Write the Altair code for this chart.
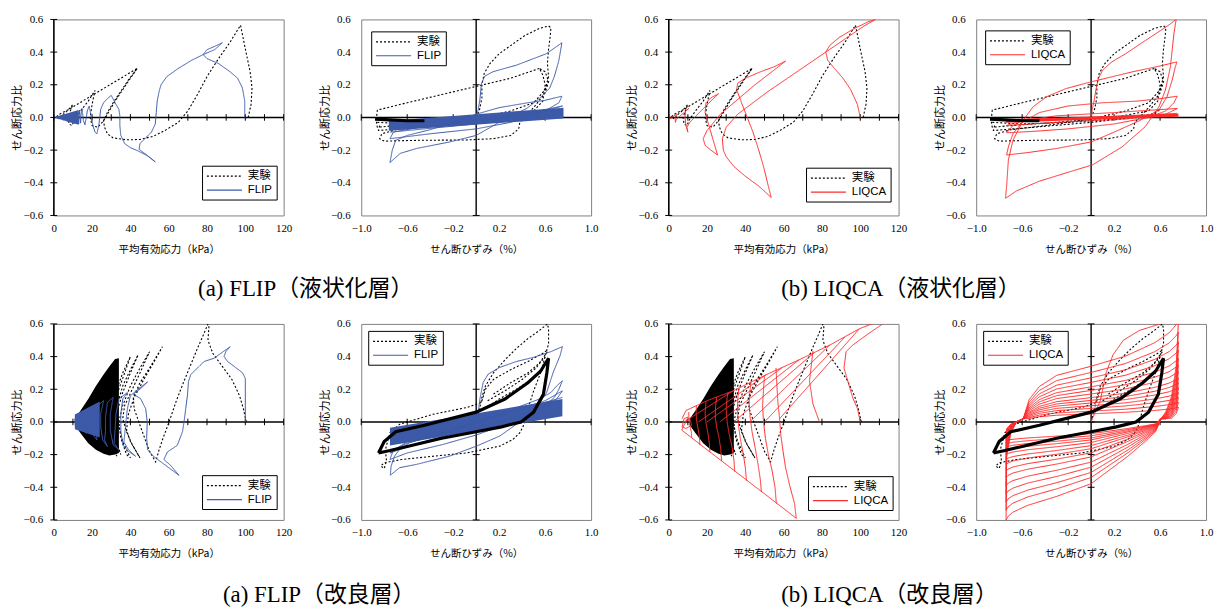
import altair as alt
import pandas as pd

# ---------------- tick values / labels ----------------
P_LABELS = [0, 20, 40, 60, 80, 100, 120]
P_AXIS_TICKS = [0, 10, 20, 30, 40, 50, 60, 70, 80, 90, 100, 110, 120]
S_LABELS = [-1.0, -0.6, -0.2, 0.2, 0.6, 1.0]
S_AXIS_TICKS = [-1.0, -0.6, -0.2, 0.2, 0.6, 1.0]
Y_LABELS = [-0.6, -0.4, -0.2, 0.0, 0.2, 0.4, 0.6]

EXP = "実験"
BLUE = "#3c5aa8"
RED = "#ff2a2a"

# ======================= 液状化層 =======================
EXP_LIQ_P = [
    [(101.5, 0.0), (103, 0.08), (103.5, 0.18), (102.5, 0.28), (100, 0.42), (97.5, 0.565), (92, 0.46), (86, 0.36),
     (80, 0.25), (75, 0.14), (70, 0.04), (65, -0.03), (58, -0.08), (52, -0.115), (45, -0.135), (38, -0.137),
     (31, -0.125), (28, -0.1), (26.5, -0.06), (26, -0.02), (28, 0.03), (31, 0.09), (35, 0.16), (39, 0.23),
     (43.5, 0.30), (35, 0.24), (25, 0.17), (15, 0.1), (8, 0.05), (3, 0.02), (1, 0.0)],
    [(43.5, 0.30), (40, 0.24), (36, 0.17), (32, 0.1), (29, 0.04), (26, -0.02), (23, -0.06), (20, -0.05), (19, 0.0),
     (20, 0.08), (21.5, 0.165), (18, 0.1), (14, 0.04), (11, -0.01), (9.5, -0.05), (8, -0.04), (7.5, 0.0), (9, 0.05),
     (10, 0.08), (7, 0.04), (4, 0.01), (3, -0.01), (2, 0.0)],
]
FLIP_LIQ_P = [
    [(99.7, 0.0), (99.7, 0.1), (98.5, 0.18), (96, 0.24), (92, 0.28), (86, 0.33), (80, 0.36), (78, 0.385), (80, 0.415),
     (84, 0.435), (88, 0.457), (84, 0.415), (78, 0.385), (72, 0.35), (65, 0.30), (59, 0.25), (56, 0.2), (55, 0.16),
     (54, 0.1), (53.5, 0.03), (53, -0.04), (51, -0.09), (48, -0.125), (45, -0.16), (44.5, -0.195), (48, -0.225),
     (53, -0.272), (49, -0.235), (44, -0.205), (40, -0.185), (37, -0.16), (35, -0.11), (34.5, -0.05), (34.5, 0.01),
     (34, 0.05), (32, 0.09), (30, 0.135), (28, 0.115), (26, 0.09), (24.5, 0.05), (24, 0.0), (23.5, -0.05),
     (22.5, -0.1), (21.5, -0.09), (20.5, -0.05), (19.5, 0.0), (19, 0.04), (18.5, 0.07), (17.5, 0.04), (17, 0.0),
     (16.3, -0.045), (15.5, -0.02), (15, 0.03), (14.8, 0.055), (14.3, 0.02), (14, -0.035), (13.5, 0.045),
     (13, -0.04), (12.5, 0.04), (12, -0.04), (11.5, 0.037), (11, -0.037), (10, 0.033), (9, -0.03), (8, 0.027),
     (7, -0.024), (6, 0.02), (5, -0.017), (4, 0.013), (3, -0.01), (2, 0.006), (1, 0.0)],
]
FLIP_LIQ_P_AREA = {"x": [1, 13], "lo": [-0.004, -0.045], "hi": [0.004, 0.045]}

LIQCA_LIQ_P = [
    [(100, 0.0), (98.5, 0.08), (95, 0.17), (91, 0.24), (86.5, 0.3), (83, 0.35), (82, 0.4), (84, 0.44), (89, 0.49),
     (97, 0.545), (104, 0.585), (108, 0.6), (102, 0.56), (92, 0.48), (82, 0.4), (72, 0.32), (62, 0.24), (52, 0.16),
     (44, 0.09), (36, 0.02), (30, -0.06), (28, -0.13), (28.5, -0.2), (30, -0.24), (34, -0.3), (40, -0.36),
     (47, -0.42), (53.5, -0.49), (52, -0.42), (49.5, -0.3), (47, -0.2), (44, -0.09), (41, 0.0), (38, 0.09),
     (35.5, 0.17), (36, 0.21), (40, 0.24), (48, 0.28), (55, 0.31), (61, 0.345), (55, 0.29), (45, 0.2), (35, 0.1),
     (27, 0.02), (20, -0.08), (18, -0.13), (19, -0.17), (22, -0.2), (25.5, -0.23), (23.5, -0.15), (21, -0.05),
     (19, 0.03), (19.5, 0.09), (22, 0.12), (26, 0.145), (22, 0.1), (16, 0.03), (11, -0.03), (9.5, -0.06),
     (10, -0.09), (9, -0.05), (8.5, 0.0), (8.8, 0.04), (10.5, 0.055), (7, 0.02), (4, -0.01), (3.5, -0.03),
     (3.3, 0.0), (4.5, 0.02), (2, 0.005), (1, -0.01), (0.5, 0.005)],
]

EXP_LIQ_S = [
    [(0.0, 0.0), (0.03, 0.05), (0.05, 0.12), (0.05, 0.2), (0.07, 0.27), (0.12, 0.33), (0.2, 0.39), (0.3, 0.44),
     (0.42, 0.5), (0.55, 0.545), (0.63, 0.56), (0.65, 0.55), (0.645, 0.5), (0.63, 0.42), (0.62, 0.33), (0.63, 0.25),
     (0.6, 0.17), (0.5, 0.09), (0.3, 0.04), (0.0, -0.01), (-0.4, -0.05), (-0.7, -0.075), (-0.82, -0.1),
     (-0.84, -0.13), (-0.8, -0.145), (-0.5, -0.14), (-0.1, -0.138), (0.15, -0.13), (0.3, -0.11), (0.37, -0.07),
     (0.38, -0.03), (0.5, 0.06), (0.6, 0.15), (0.63, 0.22), (0.6, 0.28), (0.55, 0.3), (0.58, 0.26), (0.6, 0.2),
     (0.58, 0.1), (0.5, 0.04), (0.2, 0.0), (-0.3, -0.03), (-0.7, -0.05), (-0.86, -0.06), (-0.87, -0.02),
     (-0.86, 0.045), (-0.6, 0.09), (-0.3, 0.14), (0.0, 0.19), (0.3, 0.24), (0.55, 0.3)],
    [(-0.86, -0.03), (-0.6, -0.04), (-0.2, -0.03), (0.2, -0.01), (0.55, 0.02), (0.6, 0.05), (0.5, 0.01),
     (0.0, -0.03), (-0.5, -0.06), (-0.85, -0.08), (-0.84, -0.05)],
]
EXP_LIQ_S_THICK = [[(-0.88, -0.01), (-0.75, -0.015), (-0.6, -0.02), (-0.45, -0.02)]]

FLIP_LIQ_S = [
    [(0.0, 0.0), (0.017, 0.045), (0.032, 0.106), (0.046, 0.208), (0.075, 0.253), (0.147, 0.28), (0.35, 0.32),
     (0.61, 0.39), (0.746, 0.457), (0.72, 0.35), (0.68, 0.25), (0.64, 0.18), (0.55, 0.116), (0.44, 0.055),
     (0.26, -0.006), (0.0, -0.11), (-0.23, -0.15), (-0.52, -0.19), (-0.66, -0.22), (-0.75, -0.276), (-0.73, -0.2),
     (-0.7, -0.14), (-0.6, -0.11), (-0.4, -0.075), (-0.2, -0.03), (0.0, 0.02), (0.2, 0.06), (0.45, 0.09),
     (0.6, 0.105), (0.746, 0.13), (0.72, 0.09), (0.6, 0.04), (0.3, -0.03), (0.0, -0.07), (-0.4, -0.1),
     (-0.75, -0.13), (-0.72, -0.09), (-0.5, -0.06), (0.0, -0.02), (0.4, 0.02), (0.75, 0.07), (0.5, 0.02),
     (0.0, -0.04), (-0.75, -0.09)],
]
FLIP_LIQ_S_AREA = {"x": [-0.76, 0.76], "lo": [-0.082, -0.006], "hi": [-0.02, 0.06]}

LIQCA_LIQ_S = [
    [(0.0, 0.0), (0.01, 0.05), (0.027, 0.106), (0.045, 0.18), (0.065, 0.24), (0.1, 0.29), (0.18, 0.34), (0.3, 0.39),
     (0.47, 0.47), (0.6, 0.53), (0.675, 0.565), (0.74, 0.6), (0.72, 0.51), (0.69, 0.31), (0.646, 0.167),
     (0.59, 0.065), (0.47, -0.057), (0.27, -0.18), (0.013, -0.29), (-0.22, -0.34), (-0.45, -0.39), (-0.65, -0.45),
     (-0.745, -0.495), (-0.735, -0.42), (-0.72, -0.26), (-0.68, -0.14), (-0.59, -0.016), (-0.505, 0.065),
     (-0.39, 0.126), (-0.217, 0.177), (0.0, 0.218), (0.358, 0.279), (0.6, 0.315), (0.747, 0.34), (0.733, 0.31),
     (0.705, 0.228), (0.66, 0.126), (0.59, 0.045), (0.42, -0.02), (0.2, -0.09), (0.0, -0.15), (-0.3, -0.19),
     (-0.55, -0.215), (-0.735, -0.23), (-0.72, -0.18), (-0.68, -0.1), (-0.6, -0.03), (-0.45, 0.03), (-0.2, 0.07),
     (0.1, 0.09), (0.4, 0.1), (0.6, 0.115), (0.75, 0.13), (0.72, 0.09), (0.65, 0.04), (0.5, 0.0), (0.2, -0.04),
     (-0.2, -0.07), (-0.5, -0.085), (-0.735, -0.094), (-0.68, -0.05), (-0.6, -0.02), (-0.3, 0.01), (0.2, 0.03),
     (0.75, 0.055), (0.65, 0.02), (0.3, -0.01), (-0.3, -0.03), (-0.74, -0.05), (-0.6, -0.02), (0.0, 0.0),
     (0.75, 0.025)],
]
LIQCA_LIQ_S_AREA = {"x": [-0.74, 0.76], "lo": [-0.032, 0.004], "hi": [-0.012, 0.022]}

# ======================= 改良層 =======================
EXP_IMP_P = [
    [(100.5, 0.0), (99, 0.08), (97, 0.16), (93, 0.26), (88, 0.34), (83, 0.42), (80.5, 0.5), (81, 0.58), (80.5, 0.6),
     (78, 0.53), (75, 0.45), (71.5, 0.35), (68, 0.25), (64, 0.13), (60.2, 0.0), (57, -0.1), (55, -0.17),
     (53.2, -0.245), (50, -0.18), (47.5, -0.1), (45, -0.02), (42, 0.08), (41.5, 0.15), (45, 0.24), (50, 0.33),
     (56.7, 0.46), (52, 0.36), (47, 0.26), (42, 0.15), (39, 0.05), (38, -0.05), (40, -0.12), (44, -0.2),
     (45, -0.22), (41, -0.14), (38, -0.06), (36, 0.02), (37, 0.1), (41, 0.2), (45, 0.3), (50, 0.43), (45, 0.33),
     (40, 0.22), (36, 0.1), (34, 0.0), (35, -0.1), (38, -0.2), (40, -0.22), (36, -0.12), (34, -0.03), (33, 0.06),
     (36, 0.18), (40, 0.3), (44, 0.41), (40, 0.32), (36, 0.22), (33, 0.1), (31, 0.0), (32, -0.1), (35, -0.2),
     (33, -0.13), (31, -0.05), (30, 0.05), (33, 0.17), (37, 0.3), (40, 0.4), (36, 0.3), (32, 0.17), (29, 0.05),
     (28, -0.05), (30, -0.15), (33, -0.21)],
]
EXP_IMP_P_AREA = {"x": [11, 14, 18, 22, 26, 29, 32, 34],
                  "lo": [-0.02, -0.07, -0.13, -0.17, -0.195, -0.205, -0.2, -0.19],
                  "hi": [0.02, 0.07, 0.14, 0.22, 0.29, 0.34, 0.385, 0.39]}

FLIP_IMP_P = [
    [(100, 0.0), (100, 0.1), (100, 0.2), (100, 0.266), (98.6, 0.3), (94.2, 0.34), (90.7, 0.37), (88.9, 0.4),
     (89.8, 0.43), (92.1, 0.46), (87.2, 0.42), (83.7, 0.39), (78.5, 0.37), (75, 0.33), (71.5, 0.29), (70.3, 0.245),
     (69.8, 0.164), (68.9, 0.082), (68, 0.0), (67.2, -0.06), (64.5, -0.143), (59.3, -0.184), (57.5, -0.23),
     (61, -0.266), (65.4, -0.327), (60, -0.28), (56, -0.245), (52, -0.21), (49, -0.17), (48.5, -0.1), (48.8, 0.0),
     (48, 0.08), (45.3, 0.143), (41.5, 0.17), (45, 0.2), (49, 0.245), (44, 0.2), (40, 0.16), (38.4, 0.08),
     (37.5, -0.02), (36.6, -0.123), (39, -0.17), (42.7, -0.21), (39, -0.18), (36, -0.14), (35, -0.05), (35, 0.05),
     (36, 0.14), (38.4, 0.18), (34, 0.14), (32.5, 0.05), (32, -0.05), (31.5, -0.13), (34, -0.17), (31, -0.14),
     (29.5, -0.05), (29.5, 0.05), (31, 0.15), (28, 0.12), (27, 0.03), (27, -0.06), (26.5, -0.11), (28, -0.15),
     (25.5, -0.11), (24.5, -0.03), (24.5, 0.05), (26, 0.13), (23, 0.1), (22, 0.02), (22, -0.06), (22.5, -0.11),
     (20.5, -0.08), (19.5, 0.0), (20, 0.08), (18, 0.07), (17, 0.0), (17, -0.07), (15.5, -0.05), (15, 0.0),
     (15.5, 0.06), (13.5, 0.04), (13, -0.04), (12, 0.03), (11.5, -0.03), (11, 0.02)],
]
FLIP_IMP_P_AREA = {"x": [11, 24], "lo": [-0.045, -0.095], "hi": [0.045, 0.125]}

LIQCA_IMP_P = [
    [(100, 0.0), (98.6, 0.08), (96, 0.15), (93.5, 0.25), (91.5, 0.33), (92.6, 0.43), (96, 0.47), (103, 0.53),
     (111.7, 0.6)],
    [(7, 0.02), (9, 0.07), (20, 0.13), (33.6, 0.19), (51, 0.29), (68, 0.38), (84, 0.47), (99.5, 0.57), (106, 0.6)],
    [(6.8, -0.05), (20, -0.17), (35, -0.305), (50, -0.44), (66.6, -0.59)],
    [(66.6, -0.59), (65.7, -0.5), (63.1, -0.387), (61, -0.28), (59.7, -0.18), (58.5, -0.08), (57.9, 0.02),
     (57, 0.12), (56.5, 0.22), (56, 0.33)],
    [(56.2, -0.5), (55.5, -0.4), (54, -0.3), (52, -0.2), (50.5, -0.1), (49.5, 0.0), (49, 0.1), (49.5, 0.2),
     (50, 0.28)],
    [(48.4, -0.43), (47.8, -0.35), (46.5, -0.25), (45, -0.15), (43.5, -0.06), (42.5, 0.03), (42, 0.12),
     (42.5, 0.2), (43, 0.25)],
    [(40.6, -0.36), (40, -0.28), (39, -0.2), (37.5, -0.11), (36.5, -0.03), (36, 0.05), (36, 0.13), (36.5, 0.2)],
    [(34.5, -0.305), (34, -0.23), (33, -0.15), (31.5, -0.07), (30.5, 0.0), (30, 0.08), (30.5, 0.15), (31, 0.18)],
    [(27.6, -0.24), (27.2, -0.17), (26.3, -0.1), (25, -0.03), (24.3, 0.03), (24.5, 0.1), (25, 0.15)],
    [(21.5, -0.185), (21.2, -0.13), (20.5, -0.07), (19.5, -0.01), (19, 0.05), (19.3, 0.1), (19.5, 0.125)],
    [(16.3, -0.14), (16, -0.09), (15.3, -0.04), (14.5, 0.01), (14.3, 0.06), (14.5, 0.1)],
    [(12, -0.095), (11.8, -0.06), (11, -0.02), (10.5, 0.02), (10.5, 0.06)],
    [(6.8, -0.05), (8, -0.02), (9, 0.0), (10, 0.03), (8, 0.02), (7, -0.03), (9, -0.04), (12, -0.02), (11, 0.02)],
    [(78.7, 0.0), (75.3, 0.11), (73.5, 0.25), (75.3, 0.435)],
    [(8, 0.0), (33.6, 0.19)],
    [(15.5, 0.0), (51, 0.29)],
    [(20, 0.0), (59, 0.33)],
    [(26.7, 0.0), (68, 0.38)],
    [(34, 0.0), (76, 0.425)],
    [(42.3, 0.0), (84, 0.47)],
    [(50, 0.0), (92, 0.52)],
    [(57.9, 0.02), (99.5, 0.57)],
]

EXP_IMP_S = [
    [(0.0, 0.0), (0.03, 0.08), (0.05, 0.15), (0.08, 0.22), (0.15, 0.3), (0.25, 0.38), (0.35, 0.45), (0.45, 0.51),
     (0.55, 0.56), (0.62, 0.6), (0.63, 0.57), (0.63, 0.48), (0.6, 0.4), (0.56, 0.3), (0.5, 0.19), (0.45, 0.08),
     (0.41, -0.025), (0.38, -0.066), (0.32, -0.107), (0.206, -0.148), (-0.084, -0.19), (-0.375, -0.21),
     (-0.65, -0.23), (-0.8, -0.25), (-0.83, -0.27), (-0.8, -0.285), (-0.78, -0.24), (-0.79, -0.17),
     (-0.75, -0.066), (-0.665, -0.014), (-0.375, 0.047), (-0.084, 0.088), (0.046, 0.119), (0.08, 0.2),
     (0.15, 0.26), (0.3, 0.32), (0.45, 0.37), (0.58, 0.42), (0.62, 0.44)],
    [(0.1, 0.13), (0.25, 0.19), (0.4, 0.26), (0.52, 0.33), (0.6, 0.4)],
    [(0.15, 0.17), (0.3, 0.24), (0.45, 0.3), (0.55, 0.36), (0.62, 0.43)],
    [(0.05, 0.07), (0.2, 0.14), (0.35, 0.2), (0.5, 0.27), (0.58, 0.32)],
]
EXP_IMP_S_THICK = [
    [(-0.85, -0.19), (-0.8, -0.12), (-0.7, -0.06), (-0.45, -0.02), (0.0, 0.06), (0.25, 0.14), (0.45, 0.24),
     (0.56, 0.31), (0.63, 0.39), (0.615, 0.3), (0.585, 0.17), (0.5, 0.06), (0.39, 0.0), (0.22, -0.03), (0.0, -0.06),
     (-0.3, -0.1), (-0.6, -0.15), (-0.75, -0.175), (-0.85, -0.19)],
]

FLIP_IMP_S = [
    [(0.0, 0.0), (0.02, 0.07), (0.032, 0.139), (0.061, 0.242), (0.105, 0.293), (0.206, 0.334), (0.35, 0.37),
     (0.497, 0.395), (0.65, 0.43), (0.75, 0.461), (0.73, 0.406), (0.67, 0.303), (0.613, 0.18), (0.555, 0.119),
     (0.497, 0.078), (0.35, -0.014), (0.206, -0.086), (0.003, -0.148), (-0.23, -0.209), (-0.52, -0.26),
     (-0.666, -0.28), (-0.747, -0.326), (-0.74, -0.27), (-0.71, -0.209), (-0.666, -0.168), (-0.58, -0.127),
     (-0.375, -0.086), (-0.23, -0.055), (-0.084, -0.025), (0.0, -0.004), (0.2, 0.05), (0.4, 0.1), (0.55, 0.14),
     (0.65, 0.18), (0.7, 0.22), (0.75, 0.252), (0.72, 0.2), (0.68, 0.15), (0.6, 0.1), (0.4, 0.03), (0.2, -0.03),
     (0.0, -0.08), (-0.3, -0.14), (-0.6, -0.19), (-0.75, -0.23), (-0.72, -0.17), (-0.6, -0.13), (-0.3, -0.07),
     (0.0, -0.01), (0.3, 0.06), (0.6, 0.13), (0.75, 0.19), (0.7, 0.14), (0.5, 0.07), (0.2, 0.0), (-0.2, -0.07),
     (-0.5, -0.13), (-0.75, -0.19), (-0.6, -0.12), (-0.2, -0.04), (0.2, 0.04), (0.75, 0.15)],
]
FLIP_IMP_S_AREA = {"x": [-0.75, 0.75], "lo": [-0.145, 0.035], "hi": [-0.035, 0.14]}

LIQCA_IMP_S_INIT = [(0.0, 0.0), (0.03, 0.05), (0.08, 0.13), (0.13, 0.3), (0.19, 0.41), (0.28, 0.5), (0.42, 0.56),
                    (0.6, 0.6)]
UP_X = [-0.59, -0.54, -0.45, -0.3, 0.0, 0.3, 0.55, 0.68, 0.74, 0.76, 0.74, 0.70, 0.65, 0.61]
UP_Y = [
    [0.02, 0.136, 0.217, 0.285, 0.341, 0.403, 0.484, 0.546, 0.595, 0.62, 0.341, 0.155, 0.062, 0.02],
    [0.02, 0.121, 0.193, 0.253, 0.303, 0.358, 0.429, 0.484, 0.528, 0.55, 0.303, 0.138, 0.055, 0.02],
    [0.02, 0.108, 0.172, 0.225, 0.27, 0.319, 0.382, 0.431, 0.47, 0.49, 0.27, 0.123, 0.049, 0.02],
    [0.02, 0.097, 0.154, 0.202, 0.242, 0.286, 0.343, 0.387, 0.422, 0.44, 0.242, 0.11, 0.044, 0.02],
    [0.02, 0.086, 0.137, 0.179, 0.215, 0.254, 0.304, 0.343, 0.374, 0.39, 0.215, 0.098, 0.039, 0.02],
    [0.02, 0.077, 0.123, 0.161, 0.193, 0.228, 0.273, 0.308, 0.336, 0.35, 0.193, 0.088, 0.035, 0.02],
    [0.02, 0.068, 0.109, 0.143, 0.171, 0.202, 0.242, 0.273, 0.298, 0.31, 0.171, 0.078, 0.031, 0.02],
    [0.02, 0.059, 0.095, 0.124, 0.149, 0.176, 0.211, 0.238, 0.259, 0.27, 0.149, 0.068, 0.027, 0.02],
    [0.02, 0.053, 0.084, 0.11, 0.132, 0.156, 0.187, 0.211, 0.23, 0.24, 0.132, 0.06, 0.024, 0.02],
    [0.02, 0.046, 0.074, 0.097, 0.116, 0.137, 0.164, 0.185, 0.202, 0.21, 0.116, 0.053, 0.021, 0.02],
    [0.02, 0.04, 0.063, 0.083, 0.099, 0.117, 0.14, 0.158, 0.173, 0.18, 0.099, 0.045, 0.02, 0.02],
    [0.02, 0.033, 0.053, 0.069, 0.083, 0.098, 0.117, 0.132, 0.144, 0.15, 0.083, 0.038, 0.02, 0.02],
    [0.02, 0.026, 0.042, 0.055, 0.066, 0.078, 0.094, 0.106, 0.115, 0.12, 0.066, 0.03, 0.02, 0.02],
    [0.02, 0.02, 0.032, 0.041, 0.05, 0.059, 0.07, 0.079, 0.086, 0.09, 0.05, 0.023, 0.02, 0.02],
]
LO_X = [0.61, 0.56, 0.47, 0.32, 0.0, -0.3, -0.55, -0.68, -0.72, -0.74, -0.735, -0.7, -0.65, -0.59]
LO_Y = [
    [0.02, -0.06, -0.12, -0.21, -0.378, -0.456, -0.51, -0.552, -0.576, -0.6, -0.21, -0.072, 0.0, 0.02],
    [0.02, -0.054, -0.108, -0.189, -0.34, -0.41, -0.459, -0.497, -0.518, -0.54, -0.189, -0.065, 0.0, 0.02],
    [0.02, -0.049, -0.098, -0.172, -0.309, -0.372, -0.417, -0.451, -0.47, -0.49, -0.172, -0.059, 0.0, 0.02],
    [0.02, -0.044, -0.088, -0.154, -0.277, -0.334, -0.374, -0.405, -0.422, -0.44, -0.154, -0.053, 0.0, 0.02],
    [0.02, -0.039, -0.078, -0.137, -0.246, -0.296, -0.332, -0.359, -0.374, -0.39, -0.137, -0.047, 0.0, 0.02],
    [0.02, -0.034, -0.068, -0.119, -0.214, -0.258, -0.289, -0.313, -0.326, -0.34, -0.119, -0.041, 0.0, 0.02],
    [0.02, -0.03, -0.06, -0.105, -0.189, -0.228, -0.255, -0.276, -0.288, -0.3, -0.105, -0.036, 0.0, 0.02],
    [0.02, -0.026, -0.052, -0.091, -0.164, -0.198, -0.221, -0.239, -0.25, -0.26, -0.091, -0.031, 0.0, 0.02],
    [0.02, -0.023, -0.046, -0.081, -0.145, -0.175, -0.196, -0.212, -0.221, -0.23, -0.081, -0.028, 0.0, 0.02],
    [0.02, -0.02, -0.04, -0.07, -0.126, -0.152, -0.17, -0.184, -0.192, -0.2, -0.07, -0.024, 0.0, 0.02],
    [0.02, -0.018, -0.035, -0.061, -0.11, -0.133, -0.149, -0.161, -0.168, -0.175, -0.061, -0.021, 0.0, 0.02],
    [0.02, -0.016, -0.031, -0.054, -0.098, -0.118, -0.132, -0.143, -0.149, -0.155, -0.054, -0.019, 0.0, 0.02],
    [0.02, -0.014, -0.027, -0.047, -0.085, -0.103, -0.115, -0.124, -0.13, -0.135, -0.047, -0.016, 0.0, 0.02],
    [0.02, -0.012, -0.023, -0.04, -0.072, -0.087, -0.098, -0.106, -0.11, -0.115, -0.04, -0.014, 0.0, 0.02],
]
LIQCA_IMP_S = ([LIQCA_IMP_S_INIT]
               + [list(zip(UP_X, ys)) for ys in UP_Y]
               + [list(zip(LO_X, ys)) for ys in LO_Y])

CAPTIONS = ["(a) FLIP（液状化層）", "(b) LIQCA（液状化層）", "(a) FLIP（改良層）", "(b) LIQCA（改良層）"]

# ---------------- helpers ----------------
SERIF = "Liberation Serif, Noto Sans CJK JP"
GOTHIC = "Noto Sans CJK JP"
LEGFONT = "Liberation Sans, Noto Sans CJK JP"


def seg_df(segs, series, tag):
    rows = []
    for si, pts in enumerate(segs):
        for oi, (x, y) in enumerate(pts):
            rows.append({"x": x, "y": y, "series": series, "seg": f"{tag}{si}", "o": oi})
    return pd.DataFrame(rows)


def area_df(a):
    return pd.DataFrame({"x": a["x"], "y": a["lo"], "y2": a["hi"]})


def panel(kind, model, mcolor, exp_segs, model_segs, leg_xy, exp_area=None, exp_thick=None,
          model_area=None, caption=None, cap_xy=None):
    common = dict(domain=False, ticks=False, tickSize=0, grid=False, labelFont=SERIF, labelFontSize=11,
                  labelColor="black", labelFlush=False, labelOverlap=False, titleFont=GOTHIC,
                  titleFontWeight="normal", titleColor="black")
    if kind == "p":
        xs = alt.Scale(domain=[0, 120], nice=False, zero=False)
        xaxis = alt.Axis(values=P_LABELS, format="d", title="平均有効応力（kPa）", labelPadding=7,
                         titlePadding=11, titleFontSize=10.5, **common)
        hticks = P_AXIS_TICKS
        vhalf = 1.8
    else:
        xs = alt.Scale(domain=[-1, 1], nice=False, zero=False)
        xaxis = alt.Axis(values=S_LABELS, format=".1f", title="せん断ひずみ（%）", labelPadding=7,
                         titlePadding=11, titleFontSize=10.5, **common)
        hticks = S_AXIS_TICKS
        vhalf = 0.03
    ys = alt.Scale(domain=[-0.6, 0.6], nice=False, zero=False)
    yaxis = alt.Axis(values=Y_LABELS, format=".1f", title="せん断応力比", labelPadding=11, titlePadding=0,
                     titleFontSize=11, **common)
    X = alt.X("x:Q", scale=xs, axis=xaxis)
    Y = alt.Y("y:Q", scale=ys, axis=yaxis)
    dom = [EXP, model]
    legend = alt.Legend(orient="none", legendX=leg_xy[0], legendY=leg_xy[1], title=None, fillColor="white",
                        strokeColor="black", padding=4, symbolType="M-3.2,0H3.2", symbolSize=121,
                        symbolOffset=12, symbolStrokeWidth=1.2, labelFont=LEGFONT, labelFontSize=11.5,
                        labelColor="black", rowPadding=2, labelOffset=17)
    C = alt.Color("series:N", scale=alt.Scale(domain=dom, range=["#000000", mcolor]), legend=legend)
    D = alt.StrokeDash("series:N", scale=alt.Scale(domain=dom, range=[[2, 2], [1, 0]]), legend=legend)

    layers = [
        alt.Chart(pd.DataFrame({"x": [0]})).mark_rule(color="black", strokeWidth=1.4).encode(x=X),
        alt.Chart(pd.DataFrame({"y": [0]})).mark_rule(color="black", strokeWidth=1.4).encode(y=Y),
        alt.Chart(pd.DataFrame({"x": hticks, "y": [-0.02] * len(hticks), "y2": [0.02] * len(hticks)}))
        .mark_rule(color="black", strokeWidth=1).encode(x=X, y=Y, y2="y2:Q"),
        alt.Chart(pd.DataFrame({"y": Y_LABELS, "x": [-vhalf] * len(Y_LABELS), "x2": [vhalf] * len(Y_LABELS)}))
        .mark_rule(color="black", strokeWidth=1).encode(x=X, x2="x2:Q", y=Y),
    ]
    if exp_area is not None:
        layers.append(alt.Chart(area_df(exp_area)).mark_area(color="black", clip=True)
                      .encode(x=X, y=Y, y2="y2:Q"))
    layers.append(alt.Chart(seg_df(exp_segs, EXP, "e")).mark_line(strokeWidth=1.1, clip=True)
                  .encode(x=X, y=Y, color=C, strokeDash=D, detail="seg:N", order="o:Q"))
    if model_area is not None:
        layers.append(alt.Chart(area_df(model_area)).mark_area(color=mcolor, clip=True)
                      .encode(x=X, y=Y, y2="y2:Q"))
    layers.append(alt.Chart(seg_df(model_segs, model, "m")).mark_line(strokeWidth=1.0, clip=True)
                  .encode(x=X, y=Y, color=C, strokeDash=D, detail="seg:N", order="o:Q"))
    if exp_thick is not None:
        layers.append(alt.Chart(seg_df(exp_thick, EXP, "t")).mark_line(color="black", strokeWidth=3.2, clip=True)
                      .encode(x=X, y=Y, detail="seg:N", order="o:Q"))
    if caption is not None:
        layers.append(alt.Chart(pd.DataFrame({"t": [caption]}))
                      .mark_text(align="left", baseline="middle", font=SERIF, fontSize=23, color="black")
                      .encode(x=alt.value(cap_xy[0]), y=alt.value(cap_xy[1]), text="t:N"))
    return alt.layer(*layers).properties(width=231, height=197)


p1 = panel("p", "FLIP", BLUE, EXP_LIQ_P, FLIP_LIQ_P, (149, 147), model_area=FLIP_LIQ_P_AREA)
p2 = panel("s", "FLIP", BLUE, EXP_LIQ_S, FLIP_LIQ_S, (10, 12), exp_thick=EXP_LIQ_S_THICK,
           model_area=FLIP_LIQ_S_AREA, caption=CAPTIONS[0], cap_xy=(-164, 271))
p3 = panel("p", "LIQCA", RED, EXP_LIQ_P, LIQCA_LIQ_P, (138, 149))
p4 = panel("s", "LIQCA", RED, EXP_LIQ_S, LIQCA_LIQ_S, (9, 11), exp_thick=EXP_LIQ_S_THICK,
           model_area=LIQCA_LIQ_S_AREA, caption=CAPTIONS[1], cap_xy=(-196, 271))
p5 = panel("p", "FLIP", BLUE, EXP_IMP_P, FLIP_IMP_P, (149, 152), exp_area=EXP_IMP_P_AREA,
           model_area=FLIP_IMP_P_AREA)
p6 = panel("s", "FLIP", BLUE, EXP_IMP_S, FLIP_IMP_S, (7, 7), exp_thick=EXP_IMP_S_THICK,
           model_area=FLIP_IMP_S_AREA, caption=CAPTIONS[2], cap_xy=(-139, 272))
p7 = panel("p", "LIQCA", RED, EXP_IMP_P, LIQCA_IMP_P, (140, 153), exp_area=EXP_IMP_P_AREA)
p8 = panel("s", "LIQCA", RED, EXP_IMP_S, LIQCA_IMP_S, (7, 7), exp_thick=EXP_IMP_S_THICK,
           caption=CAPTIONS[3], cap_xy=(-196, 272))

IND = dict(x="independent", y="independent", color="independent", strokeDash="independent")
LEG = dict(color="independent", strokeDash="independent")

chart = (
    alt.concat(p1, p2, p3, p4, p5, p6, p7, p8, columns=4, spacing={"row": 109, "column": 78}, bounds="flush")
    .resolve_scale(**IND)
    .resolve_legend(**LEG)
    .properties(padding={"left": 3, "top": 3, "right": 0, "bottom": 0})
    .configure_view(stroke="#808080", strokeWidth=1)
)

chart.save("out.html", embed_options={"renderer": "svg", "actions": False})
